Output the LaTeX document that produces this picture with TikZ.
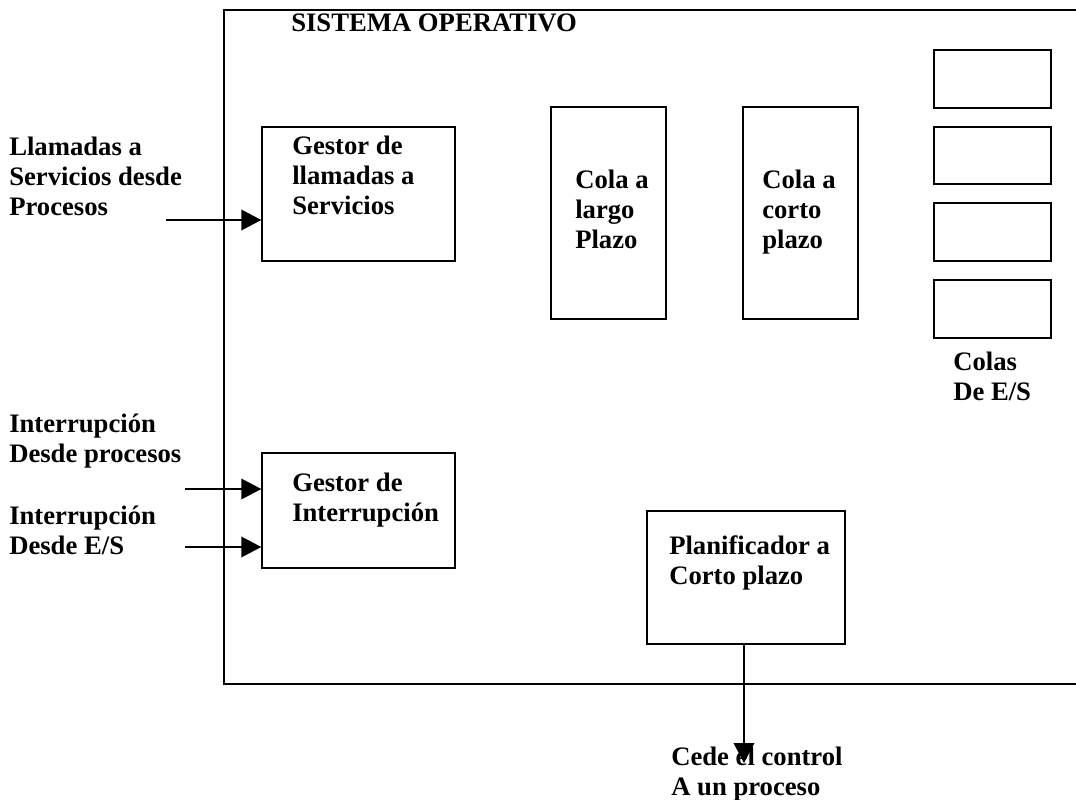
\documentclass[tikz,border=0pt]{standalone}
\usepackage{fontspec}
\setmainfont{Liberation Serif}
\usetikzlibrary{arrows.meta,fit}

% one unit = one pixel of a 1076 x 800 sheet, y grows downwards
\tikzset{
  box/.style={draw=black, line width=1.1pt, inner sep=0pt, fill=none},
  lbl/.style={anchor=north west, inner sep=0pt, align=left,
              font=\fontsize{20}{22.5}\selectfont\bfseries},
  arr/.style={line width=1.1pt, -{Triangle[length=15pt,width=15.5pt]}},
  frame/.style={line width=1.1pt},
}
% strut that fixes the first baseline 18pt below the node top
\newcommand{\fl}{\rule{0pt}{18pt}}

\begin{document}
\begin{tikzpicture}[x=0.75pt,y=-0.75pt]
\useasboundingbox (0,0) rectangle (1076,800);

% operating system frame (open on the right)
\draw[frame] (1080,10) -- (224,10) -- (224,684) -- (1080,684);
\node[lbl] (title) at (291,7) {\fl SISTEMA OPERATIVO};

% boxes
\node[box, fit={(262,127) (455,261)}] (gl) {};
\node[box, fit={(262,453) (455,568)}] (gi) {};
\node[box, fit={(551,107) (666,319)}] (cl) {};
\node[box, fit={(743,107) (858,319)}] (cc) {};
\node[box, fit={(934,50) (1051,108)}] (q1) {};
\node[box, fit={(934,127) (1051,184)}] (q2) {};
\node[box, fit={(934,203) (1051,261)}] (q3) {};
\node[box, fit={(934,280) (1051,338)}] (q4) {};
\node[box, fit={(647,511) (845,644)}] (plan) {};

% texts inside boxes
\node[lbl] (gltxt) at (292,130) {\fl Gestor de\\llamadas a\\Servicios};
\node[lbl] (gitxt) at (292,467) {\fl Gestor de\\Interrupción};
\node[lbl] (cltxt) at (575,164) {\fl Cola a\\largo\\Plazo};
\node[lbl] (cctxt) at (762,164) {\fl Cola a\\corto\\plazo};
\node[lbl] (pltxt) at (669,530) {\fl Planificador a\\Corto plazo};
\node[lbl] (colas) at (953,346) {\fl Colas\\De E/S};

% outside labels
\node[lbl] (llam) at (9,131) {\fl Llamadas a\\Servicios desde\\Procesos};
\node[lbl] (intp) at (9,408) {\fl Interrupción\\Desde procesos};
\node[lbl] (intes) at (9,500) {\fl Interrupción\\Desde E/S};
\node[lbl] (cede) at (671,741) {\fl Cede el control\\A un proceso};

% connectors
\coordinate (s1) at (166,220);
\coordinate (s2) at (185,489);
\coordinate (s3) at (185,547);
\coordinate (o1) at (744,763);
\draw[arr] (s1) -- (s1 -| gl.west);
\draw[arr] (s2) -- (s2 -| gi.west);
\draw[arr] (s3) -- (s3 -| gi.west);
\draw[arr] (plan.south -| o1) -- (o1);
\end{tikzpicture}
\end{document}
